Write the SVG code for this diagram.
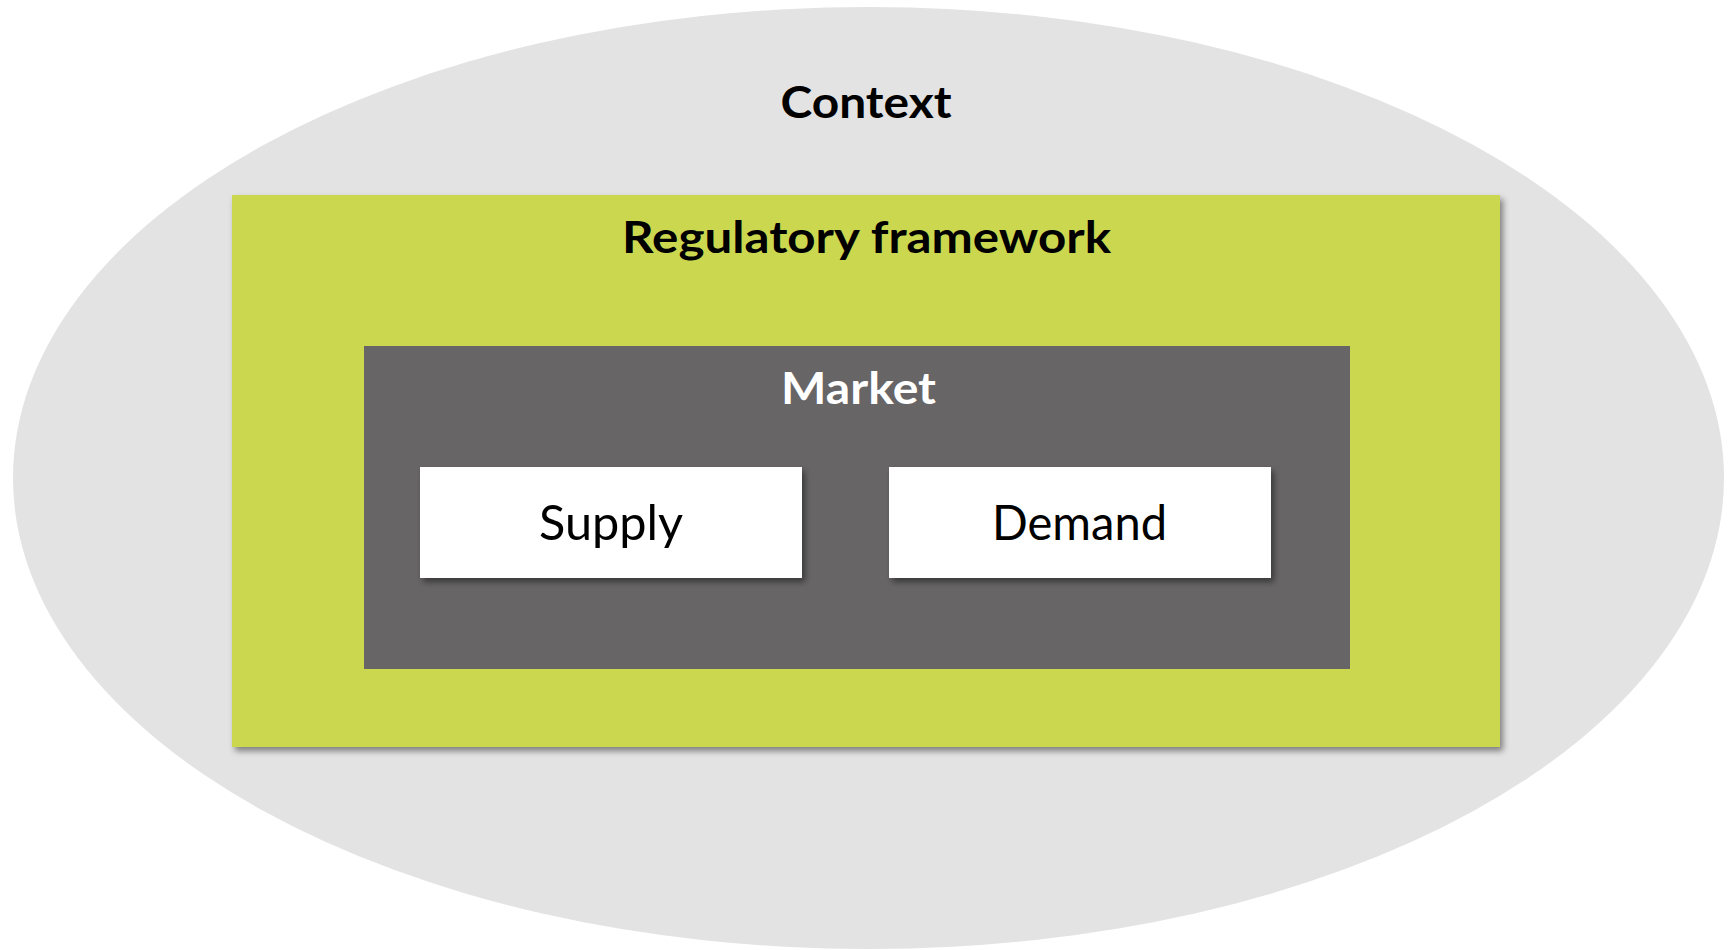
<svg xmlns="http://www.w3.org/2000/svg" width="1735" height="950" viewBox="0 0 1735 950">
  <style>
    .bold { font-family: Lato, "Open Sans", "Liberation Sans", sans-serif; font-weight: 700; font-size: 44px; text-anchor: middle; }
    .reg { font-family: Lato, "Open Sans", "Liberation Sans", sans-serif; font-weight: 400; font-size: 48px; text-anchor: middle; fill: #000; }
  </style>
  <defs>
    <filter id="shadow" x="-5%" y="-5%" width="112%" height="115%">
      <feDropShadow dx="3" dy="4" stdDeviation="3" flood-color="#000" flood-opacity="0.45"/>
    </filter>
  </defs>
  <rect width="1735" height="950" fill="#ffffff"/>

  <g id="context">
    <ellipse cx="868.5" cy="478" rx="855.5" ry="471" fill="#e3e3e3"/>
    <text class="bold" x="866" y="118" fill="#000" font-size="46" textLength="171" lengthAdjust="spacingAndGlyphs">Context</text>
  </g>

  <g id="regulatory-framework">
    <rect x="232" y="195" width="1268" height="552" fill="#cbd84f" filter="url(#shadow)"/>
    <text class="bold" x="866.5" y="253" fill="#000" textLength="489" lengthAdjust="spacingAndGlyphs">Regulatory framework</text>
  </g>

  <g id="market">
    <rect x="364" y="346" width="986" height="323" fill="#676566"/>
    <text class="bold" x="858.5" y="404" fill="#fff" textLength="155" lengthAdjust="spacingAndGlyphs">Market</text>
  </g>

  <g id="supply">
    <rect x="420" y="467" width="382" height="111" fill="#fff" filter="url(#shadow)"/>
    <text class="reg" x="611" y="540" textLength="144" lengthAdjust="spacingAndGlyphs">Supply</text>
  </g>

  <g id="demand">
    <rect x="889" y="467" width="382" height="111" fill="#fff" filter="url(#shadow)"/>
    <text class="reg" x="1079.5" y="540" textLength="175" lengthAdjust="spacingAndGlyphs">Demand</text>
  </g>

  <g id="connectors"></g>
</svg>
